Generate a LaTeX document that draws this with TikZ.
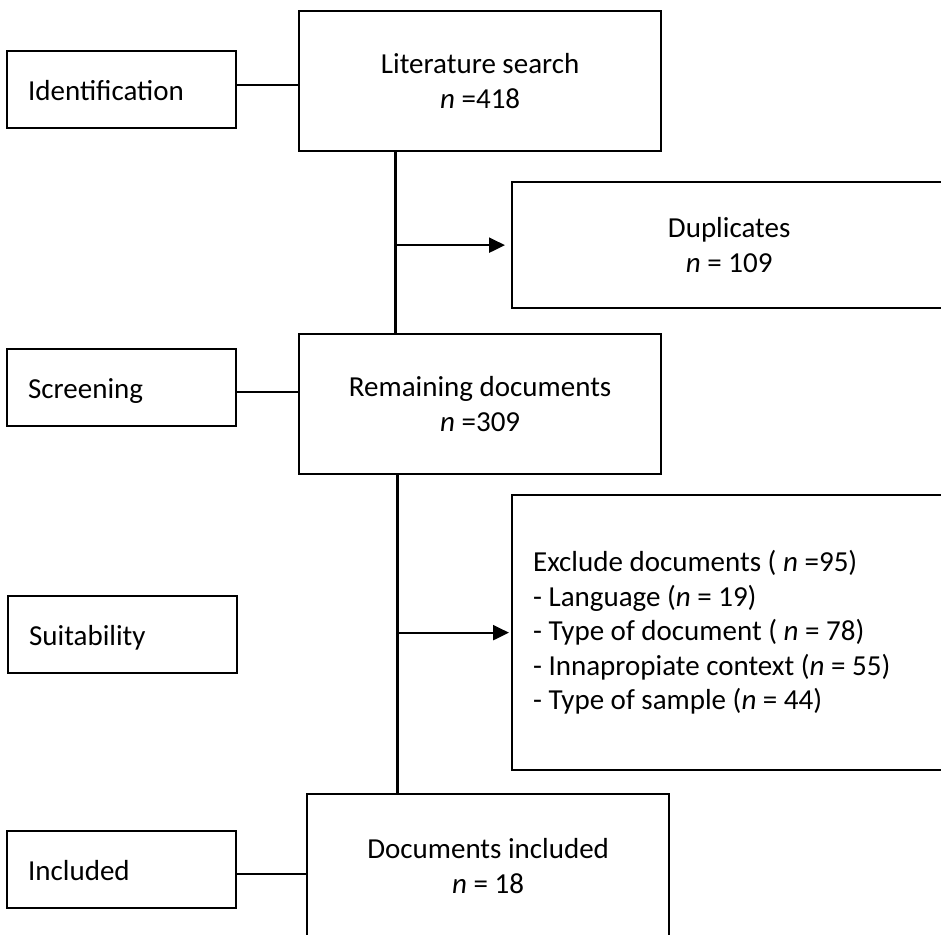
\documentclass[tikz,border=0pt]{standalone}
\usepackage{fontspec}
\setmainfont{Carlito}
\usetikzlibrary{arrows.meta}
\begin{document}
\begin{tikzpicture}[x=1pt,y=-1pt,
  every node/.style={font=\fontsize{29}{35}\selectfont},
  boxline/.style={draw, line width=2.3pt, inner sep=0pt},
  stage/.style={boxline, anchor=north west, minimum height=77pt, inner xsep=21pt, text width=187pt, align=flush left, text height=21pt, text depth=0pt},
  mainbox/.style={boxline, anchor=north west, minimum width=362pt, minimum height=140pt, align=center},
  sidebox/.style={boxline, anchor=north west, minimum width=434pt, align=center},
  link/.style={line width=2.3pt},
  arrowlink/.style={link, -{Triangle[length=16pt,width=15pt]}}
]
\useasboundingbox (0,0) rectangle (941,934);
\clip (0,0) rectangle (941,934);
\fill[white] (0,0) rectangle (941,934);

% stage labels
\node[stage] (ident) at (6,50) {Identification};
\node[stage] (screen) at (6,348) {Screening};
\node[stage] (suit) at (7,595) {Suitability};
\node[stage] (incl) at (6,830) {Included};

% main flow
\node[mainbox] (lit) at (298,10) {Literature search\\\textit{n} =418};
\node[mainbox] (rem) at (298,333) {Remaining documents\\\textit{n} =309};
\node[mainbox, minimum height=143pt] (docs) at (306,793) {Documents included\\\textit{n} = 18};

% side boxes
\node[sidebox, minimum height=126pt] (dup) at (511,181) {Duplicates\\\textit{n} = 109};
\node[sidebox, minimum height=275pt, text width=392pt, inner xsep=21pt, align=flush left,
      font=\fontsize{29}{34.5}\selectfont] (excl) at (511,494)
  {Exclude documents ( \textit{n} =95)\\
   - Language (\textit{n} = 19)\\
   - Type of document ( \textit{n} = 78)\\
   - Innapropiate context (\textit{n} = 55)\\
   - Type of sample (\textit{n} = 44)};

% vertical spine
\coordinate (vxa) at (395.5,0);
\coordinate (vxb) at (397.5,0);
\draw[link] (lit.south -| vxa) -- (rem.north -| vxa);
\draw[link] (rem.south -| vxb) -- (docs.north -| vxb);

% arrows to side boxes
\draw[arrowlink, shorten >=6pt] (vxa |- dup.west) -- (dup.west);
\draw[arrowlink, shorten >=2pt] (vxb |- excl.west) -- (excl.west);

% stage connectors
\draw[link] ([yshift=4.5pt]ident.east) coordinate (ia) -- (ia -| lit.west);
\draw[link] ([yshift=-4.5pt]screen.east) coordinate (sa) -- (sa -| rem.west);
\draw[link] ([yshift=-4.5pt]incl.east) coordinate (na) -- (na -| docs.west);
\end{tikzpicture}
\end{document}
